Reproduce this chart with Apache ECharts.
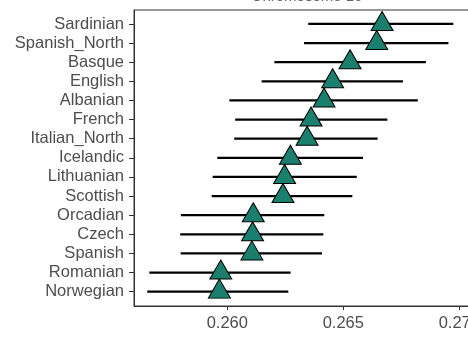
<!DOCTYPE html>
<html>
<head>
<meta charset="utf-8">
<script src="https://cdn.jsdelivr.net/npm/echarts@6/dist/echarts.min.js"></script>
<style>html,body{margin:0;padding:0;background:#fff;}#c{width:468px;height:339px;}</style>
</head>
<body>
<div id="c"></div>
<script>
// categories top to bottom
var categories = ['Sardinian','Spanish_North','Basque','English','Albanian','French','Italian_North','Icelandic','Lithuanian','Scottish','Orcadian','Czech','Spanish','Romanian','Norwegian'];
var estimate = [0.26667,0.26644,0.26529,0.26454,0.26417,0.26361,0.26344,0.26272,0.26247,0.26240,0.26112,0.26109,0.26106,0.25972,0.25966];
var lower    = [0.26349,0.26331,0.26203,0.26148,0.26009,0.26034,0.26030,0.25957,0.25937,0.25933,0.25800,0.25797,0.25799,0.25664,0.25655];
var upper    = [0.26974,0.26953,0.26856,0.26757,0.26821,0.26690,0.26648,0.26585,0.26558,0.26539,0.26418,0.26414,0.26408,0.26273,0.26263];
var xTicks = [0.260, 0.265, 0.270];
var titleText = 'Chromosome 16';

var yIdx = categories.map(function(_, i){ return i + 1; });
var ciData = categories.map(function(_, i){ return [lower[i], upper[i], i + 1]; });
var ptData = categories.map(function(_, i){ return [estimate[i], i + 1]; });

var chart = echarts.init(document.getElementById('c'), null, {renderer: 'canvas'});
chart.setOption({
  animation: false,
  backgroundColor: '#ffffff',
  title: {
    text: titleText, left: 302, top: -15.5, textAlign: 'center',
    textStyle: {fontFamily: 'Liberation Sans', fontSize: 15, fontWeight: 'normal', color: '#666666'}
  },
  grid: {left: 134, top: 10, width: 336, height: 296, show: true, borderColor: '#333333', borderWidth: 1,
    backgroundColor: 'transparent', outerBoundsMode: 'none', containLabel: false},
  xAxis: {
    type: 'value', min: 0.25598, max: 0.27046,
    splitLine: {show: false},
    axisLine: {show: true, lineStyle: {color: '#333333', width: 1}},
    axisTick: {show: true, customValues: xTicks, length: 4, lineStyle: {color: '#333333'}},
    axisLabel: {show: true, customValues: xTicks, margin: 9, color: '#4d4d4d', fontSize: 16.5, fontFamily: 'Liberation Sans',
      hideOverlap: false, formatter: function(v){ return v.toFixed(3); }}
  },
  yAxis: {
    type: 'value', min: 0.27, max: 15.75, inverse: true,
    splitLine: {show: false},
    axisLine: {show: true, lineStyle: {color: '#333333', width: 1}},
    axisTick: {show: true, customValues: yIdx, length: 5, lineStyle: {color: '#333333'}},
    axisLabel: {show: true, customValues: yIdx, margin: 10, color: '#4d4d4d', fontSize: 16.5, fontFamily: 'Liberation Sans',
      formatter: function(v){ return categories[Math.round(v) - 1] || ''; }}
  },
  series: [
    {
      type: 'custom',
      data: ciData,
      z: 2,
      renderItem: function(params, api){
        var a = api.coord([api.value(0), api.value(2)]);
        var b = api.coord([api.value(1), api.value(2)]);
        return {type: 'line', shape: {x1: a[0], y1: a[1], x2: b[0], y2: b[1]},
          style: {stroke: '#000000', lineWidth: 2.2}};
      }
    },
    {
      type: 'scatter',
      data: ptData,
      z: 3,
      symbol: 'triangle',
      symbolSize: [22, 19],
      symbolOffset: [0, -3],
      itemStyle: {color: '#1b7f6e', borderColor: '#000000', borderWidth: 1, opacity: 1}
    }
  ]
});
</script>
</body>
</html>
